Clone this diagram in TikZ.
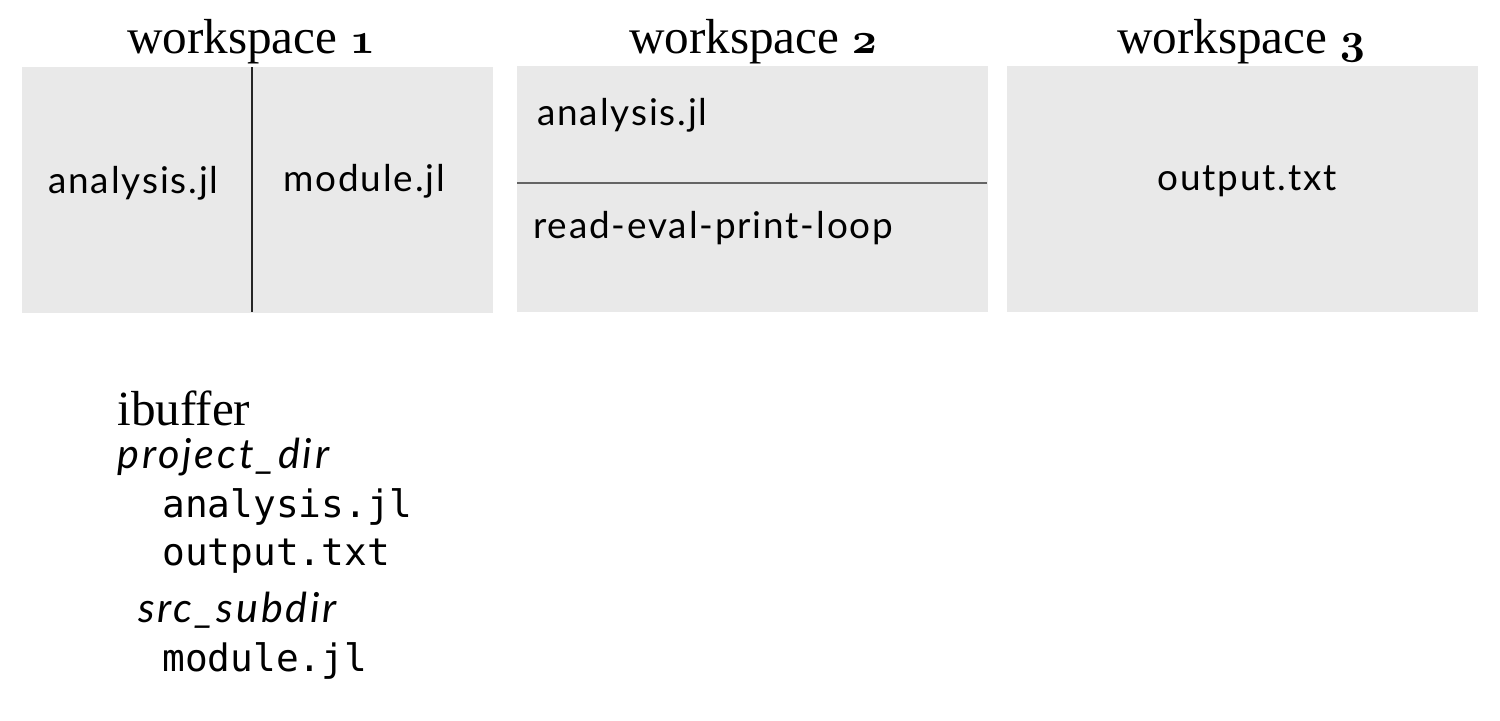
\documentclass[tikz,border=0pt]{standalone}
\usepackage{fontspec}
\setmainfont{Liberation Serif}
\setsansfont{Lato}[LetterSpace=5]
\setmonofont{DejaVu Sans Mono}
\newcommand{\osdigit}[1]{{\usefont{OML}{cmm}{b}{it}#1}}
\definecolor{panegray}{RGB}{233,233,233}
\definecolor{splitgray}{RGB}{100,100,100}

\begin{document}
\begin{tikzpicture}[x=0.02cm,y=-0.02cm,
    pane/.style={fill=panegray,draw=none,anchor=north west,inner sep=0pt,
      minimum width=9.42cm,minimum height=4.92cm},
    wstitle/.style={font=\fontsize{28}{34}\selectfont,anchor=base,inner sep=0pt},
    bufname/.style={font=\sffamily\fontsize{21}{25}\selectfont,inner sep=0pt},
    dirname/.style={font=\sffamily\itshape\fontsize{23.5}{28}\selectfont\addfontfeature{LetterSpace=7},
      anchor=base west,inner sep=0pt},
    filename/.style={font=\ttfamily\fontsize{21.5}{25}\selectfont,anchor=base west,inner sep=0pt}]

  \useasboundingbox (0,0) rectangle (1500,720);

  % workspaces
  \node[pane] (ws1) at (22,67)   {};
  \node[pane] (ws2) at (517,66)  {};
  \node[pane] (ws3) at (1007,66) {};

  \node[wstitle] (t1) at (251,53)  {workspace \osdigit{1}};
  \node[wstitle] (t2) at (753,53)  {workspace \osdigit{2}};
  \node[wstitle] (t3) at (1241,53) {workspace \osdigit{3}};

  % splits
  \coordinate (v1) at (252,67);
  \coordinate (v2) at (252,312);
  \coordinate (h1) at (517,183);
  \coordinate (h2) at (987,183);
  \draw[black!85,line width=0.6pt] (v1) -- (v2);
  \draw[splitgray,line width=0.8pt] (h1) -- (h2);

  % buffers
  \node[bufname,anchor=base west] (b1) at (48,193)  {analysis.jl};
  \node[bufname,anchor=base west] (b2) at (283,191) {module.jl};
  \node[bufname,anchor=base west] (b3) at (537,125) {analysis.jl};
  \node[bufname,anchor=base west] (b4) at (533,238) {read-eval-print-loop};
  \node[bufname,anchor=base] (b5) at (1247,190) {output.txt};

  % ibuffer
  \node[font=\fontsize{28}{34}\selectfont,anchor=base west,inner sep=0pt] (ib) at (117,425) {ibuffer};
  \node[dirname] (d1) at (117,468) {project\_dir};
  \node[filename] (f1) at (162,517) {analysis.jl};
  \node[filename] (f2) at (162,565) {output.txt};
  \node[dirname] (d2) at (138,622) {src\_subdir};
  \node[filename] (f3) at (162,671) {module.jl};

\end{tikzpicture}
\end{document}
